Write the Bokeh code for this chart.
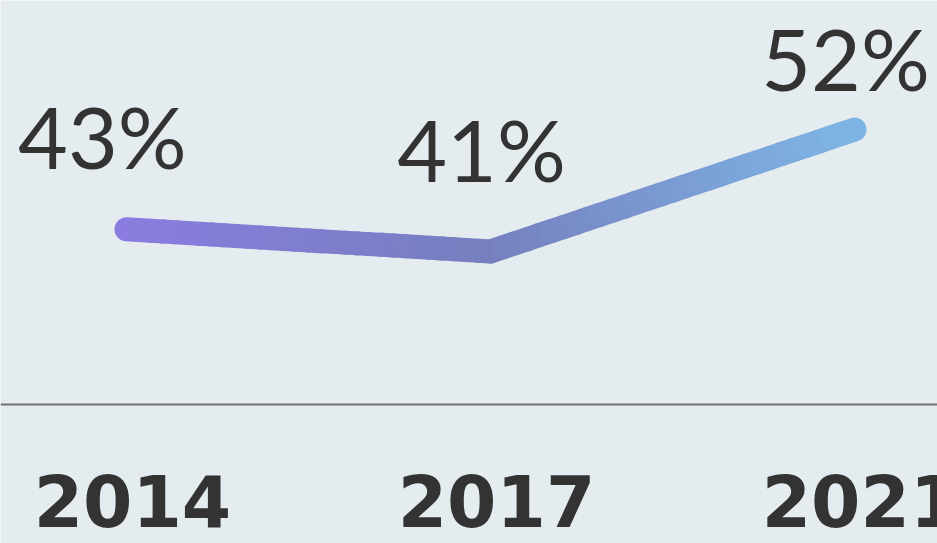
import numpy as np
from bokeh.plotting import figure
from bokeh.models import Range1d, ColumnDataSource, Span
from bokeh.core.properties import value
from bokeh.embed import file_html
from bokeh.resources import INLINE

# ---- data ----
years = ["2014", "2017", "2021"]
shares = [43, 41, 52]
share_labels = ["43%", "41%", "52%"]

# ---- style ----
BG = "#e4ecf0"
TEXT = "#333333"
stop_colors = [(138, 125, 224), (118, 127, 191), (126, 181, 228)]
label_dx = [-24, -9, -9]        # value-label nudges in screen pixels
label_dy = [-94, -103, -72]
BASELINE = 27.19                # level of the horizontal base line

W, H = 937, 543
xs = list(range(len(years)))

p = figure(width=W, height=H, output_backend="svg", toolbar_location=None,
           x_range=Range1d(-0.346, 2.228), y_range=Range1d(14.65, 63.65),
           min_border=0, x_axis_location=None, y_axis_location=None)
p.background_fill_color = BG
p.border_fill_color = BG
p.outline_line_color = None
p.grid.visible = False

p.add_layout(Span(location=BASELINE, dimension="width",
                  line_color="#707070", line_width=2))

# gradient line: split each data segment into short pieces with blended colour
x0s, y0s, x1s, y1s, cols = [], [], [], [], []
n = 30
for i in range(len(xs) - 1):
    c0 = np.array(stop_colors[i], float)
    c1 = np.array(stop_colors[i + 1], float)
    t = np.linspace(0, 1, n + 1)
    px = xs[i] + (xs[i + 1] - xs[i]) * t
    py = shares[i] + (shares[i + 1] - shares[i]) * t
    for j in range(n):
        x0s.append(px[j]); y0s.append(py[j])
        x1s.append(px[j + 1]); y1s.append(py[j + 1])
        tm = (t[j] + t[j + 1]) / 2
        c = (c0 + (c1 - c0) * tm).round().astype(int)
        cols.append("#%02x%02x%02x" % tuple(c))

p.segment(x0=x0s, y0=y0s, x1=x1s, y1=y1s, line_color=cols, line_width=24,
          line_cap="round")

src = ColumnDataSource(dict(x=xs, y=shares, t=share_labels,
                            dx=label_dx, dy=label_dy))
p.text(x="x", y="y", text="t", source=src, text_font=value("Lato"),
       text_font_size="86px", text_color=TEXT, text_align="center",
       text_baseline="alphabetic", x_offset="dx", y_offset="dy")

ysrc = ColumnDataSource(dict(x=xs, y=[BASELINE] * len(xs), t=years))
p.text(x="x", y="y", text="t", source=ysrc, text_font=value("DejaVu Sans"),
       text_font_style="bold", text_font_size="71px", text_color=TEXT,
       text_align="center", text_baseline="alphabetic", x_offset=6,
       y_offset=96)

html = file_html(p, INLINE)
open("out.html", "w").write(html)
